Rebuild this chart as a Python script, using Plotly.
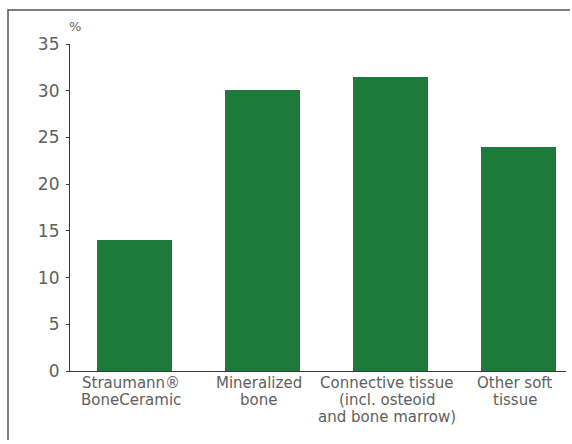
import plotly.graph_objects as go

# Tissue composition of the augmented site (% of area)
categories = [
    "Straumann®<br>BoneCeramic",
    "Mineralized<br>bone",
    "Connective tissue<br>(incl. osteoid<br>and bone marrow)",
    "Other soft<br>tissue",
]
percent = [14.0, 30.1, 31.5, 24.0]
y_ticks = [0, 5, 10, 15, 20, 25, 30, 35]

W, H = 572, 444
ML, MR, MT, MB = 70, 6, 44, 73
PW, PH = W - ML - MR, H - MT - MB

bar_color = "#1c7a3b"
text_color = "#606060"
axis_color = "#3a3a3a"
frame_color = "#555555"
font_family = "'DejaVu Sans', sans-serif"

xs = list(range(len(categories)))

fig = go.Figure(
    go.Bar(
        x=xs,
        y=percent,
        width=0.59,
        marker=dict(color=bar_color, line=dict(width=0)),
        hoverinfo="skip",
    )
)

# category slots are 128 px apart, first centred 64.5 px from the y axis
slot = 128.0
x0 = -64.5 / slot
x1 = x0 + PW / slot


def px_x(p):
    return (p - ML) / PW


def px_y(p):
    return (H - MB - p) / PH


# category labels: one annotation per text line, 17 px apart under the axis
label_font = dict(family=font_family, size=15, color=text_color)
line_gap = 17
first_line = 383
annotations = []
for xi, label in zip(xs, categories):
    for li, line in enumerate(label.split("<br>")):
        annotations.append(
            dict(
                text=line,
                xref="x",
                yref="paper",
                x=xi,
                y=px_y(first_line + li * line_gap),
                xshift=-4,
                showarrow=False,
                xanchor="center",
                yanchor="middle",
                font=label_font,
            )
        )

annotations.append(
    dict(
        text="%",
        xref="paper",
        yref="paper",
        x=px_x(75),
        y=px_y(26),
        showarrow=False,
        font=dict(family=font_family, size=13, color=text_color),
        xanchor="center",
        yanchor="middle",
    )
)

# open frame: top and left edges of the panel border as thin filled strips
frame = [
    dict(type="rect", xref="paper", yref="paper",
         x0=px_x(8), x1=px_x(W - 2), y0=px_y(10.75), y1=px_y(9.25),
         fillcolor=frame_color, line=dict(width=0), layer="below"),
    dict(type="rect", xref="paper", yref="paper",
         x0=px_x(7.25), x1=px_x(8.75), y0=px_y(H - 4), y1=px_y(9.25),
         fillcolor=frame_color, line=dict(width=0), layer="below"),
]

fig.update_layout(
    width=W,
    height=H,
    margin=dict(l=ML, r=MR, t=MT, b=MB, pad=0),
    paper_bgcolor="white",
    plot_bgcolor="white",
    showlegend=False,
    bargap=0,
    font=dict(family=font_family, color=text_color, size=14),
    xaxis=dict(
        range=[x0, x1],
        tickmode="array",
        tickvals=xs,
        showticklabels=False,
        showline=True,
        linecolor=axis_color,
        linewidth=1.2,
        ticks="",
        showgrid=False,
        zeroline=False,
        fixedrange=True,
    ),
    yaxis=dict(
        range=[0, 35],
        tickmode="array",
        tickvals=y_ticks,
        showline=True,
        linecolor=axis_color,
        linewidth=1.2,
        ticks="outside",
        ticklen=3,
        tickcolor=axis_color,
        showgrid=False,
        zeroline=False,
        tickfont=dict(family=font_family, size=17, color=text_color),
        ticklabelstandoff=3,
        fixedrange=True,
    ),
    shapes=frame,
    annotations=annotations,
)

fig.write_html("out.html")
